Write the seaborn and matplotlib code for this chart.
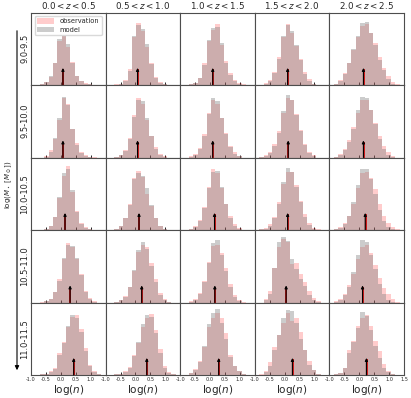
import numpy as np
import pandas as pd
import matplotlib
matplotlib.use("Agg")
import matplotlib.pyplot as plt
import seaborn as sns
from matplotlib.patches import Patch, FancyArrowPatch

sns.set_theme(style="white")
plt.rcParams['font.family'] = ['DejaVu Sans']
plt.rcParams['mathtext.fontset'] = 'dejavusans'

# ---------------- data ----------------
bin_edges = np.linspace(-1.0, 1.5, 18)
z_labels = [r"$0.0 < z < 0.5$", r"$0.5 < z < 1.0$", r"$1.0 < z < 1.5$",
            r"$1.5 < z < 2.0$", r"$2.0 < z < 2.5$"]
mass_labels = ["9.0-9.5", "9.5-10.0", "10.0-10.5", "10.5-11.0", "11.0-11.5"]

# relative bar heights per bin (17 bins), one list per redshift column
model_row0 = [
    [0, 0, 0.01, 0.04, 0.12, 0.31, 0.63, 0.67, 0.56, 0.31, 0.12, 0.05, 0.02, 0.01, 0, 0, 0],
    [0, 0, 0, 0.02, 0.06, 0.20, 0.68, 0.83, 0.77, 0.56, 0.29, 0.10, 0.03, 0.01, 0, 0, 0],
    [0, 0, 0.01, 0.03, 0.09, 0.28, 0.62, 0.78, 0.80, 0.58, 0.30, 0.14, 0.05, 0.02, 0, 0, 0],
    [0, 0, 0.02, 0.06, 0.17, 0.36, 0.68, 0.83, 0.74, 0.55, 0.34, 0.15, 0.05, 0.02, 0, 0, 0],
    [0, 0.02, 0.06, 0.15, 0.30, 0.50, 0.68, 0.85, 0.87, 0.72, 0.55, 0.35, 0.20, 0.08, 0.02, 0, 0],
]
obs_row0 = [
    [0, 0, 0.01, 0.04, 0.11, 0.30, 0.60, 0.68, 0.52, 0.32, 0.13, 0.06, 0.03, 0.01, 0, 0, 0],
    [0, 0, 0.01, 0.02, 0.07, 0.22, 0.66, 0.85, 0.74, 0.52, 0.30, 0.11, 0.04, 0.01, 0, 0, 0],
    [0, 0, 0.01, 0.03, 0.10, 0.30, 0.60, 0.76, 0.84, 0.55, 0.33, 0.16, 0.07, 0.03, 0.01, 0, 0],
    [0, 0, 0.03, 0.07, 0.18, 0.38, 0.66, 0.84, 0.72, 0.54, 0.36, 0.18, 0.08, 0.02, 0, 0, 0],
    [0, 0.02, 0.07, 0.17, 0.30, 0.48, 0.66, 0.82, 0.84, 0.72, 0.58, 0.38, 0.24, 0.12, 0.04, 0.01, 0],
]
model_row1 = [
    [0, 0, 0, 0.01, 0.08, 0.27, 0.55, 0.84, 0.72, 0.40, 0.17, 0.06, 0.02, 0.01, 0, 0, 0],
    [0, 0, 0.01, 0.03, 0.09, 0.25, 0.56, 0.80, 0.78, 0.55, 0.30, 0.12, 0.04, 0.01, 0, 0, 0],
    [0, 0, 0.01, 0.04, 0.12, 0.30, 0.60, 0.82, 0.78, 0.55, 0.32, 0.14, 0.05, 0.02, 0, 0, 0],
    [0, 0.01, 0.02, 0.06, 0.16, 0.34, 0.64, 0.86, 0.80, 0.58, 0.36, 0.17, 0.06, 0.02, 0, 0, 0],
    [0, 0.01, 0.04, 0.10, 0.22, 0.40, 0.65, 0.84, 0.82, 0.66, 0.46, 0.26, 0.12, 0.04, 0.01, 0, 0],
]
obs_row1 = [
    [0, 0, 0, 0.02, 0.10, 0.26, 0.52, 0.82, 0.74, 0.40, 0.20, 0.08, 0.03, 0.01, 0.01, 0, 0],
    [0, 0, 0.01, 0.03, 0.10, 0.27, 0.58, 0.82, 0.74, 0.52, 0.30, 0.14, 0.05, 0.02, 0, 0, 0],
    [0, 0, 0.02, 0.05, 0.13, 0.32, 0.62, 0.80, 0.74, 0.54, 0.34, 0.16, 0.07, 0.02, 0, 0, 0],
    [0, 0.01, 0.03, 0.07, 0.18, 0.36, 0.62, 0.82, 0.80, 0.60, 0.38, 0.19, 0.08, 0.03, 0, 0, 0],
    [0, 0.01, 0.05, 0.12, 0.24, 0.42, 0.62, 0.80, 0.80, 0.66, 0.48, 0.30, 0.16, 0.07, 0.02, 0, 0],
]
model_row2 = [
    [0, 0, 0, 0.01, 0.05, 0.18, 0.45, 0.78, 0.84, 0.55, 0.25, 0.08, 0.03, 0.01, 0, 0, 0],
    [0, 0, 0.01, 0.05, 0.16, 0.35, 0.70, 0.78, 0.74, 0.58, 0.35, 0.17, 0.06, 0.02, 0, 0, 0],
    [0, 0, 0.01, 0.04, 0.12, 0.30, 0.58, 0.80, 0.82, 0.60, 0.36, 0.17, 0.06, 0.02, 0, 0, 0],
    [0, 0.01, 0.02, 0.06, 0.16, 0.36, 0.66, 0.85, 0.80, 0.60, 0.38, 0.18, 0.07, 0.02, 0, 0, 0],
    [0, 0.01, 0.03, 0.08, 0.20, 0.38, 0.62, 0.84, 0.84, 0.70, 0.50, 0.28, 0.12, 0.04, 0.01, 0, 0],
]
obs_row2 = [
    [0, 0, 0, 0.02, 0.06, 0.18, 0.44, 0.75, 0.88, 0.52, 0.26, 0.10, 0.04, 0.01, 0, 0, 0],
    [0, 0, 0.01, 0.05, 0.16, 0.36, 0.72, 0.82, 0.73, 0.50, 0.33, 0.16, 0.06, 0.02, 0, 0, 0],
    [0, 0, 0.02, 0.05, 0.14, 0.32, 0.60, 0.84, 0.78, 0.58, 0.36, 0.19, 0.08, 0.03, 0, 0, 0],
    [0, 0.01, 0.03, 0.08, 0.18, 0.38, 0.64, 0.80, 0.80, 0.62, 0.40, 0.22, 0.09, 0.03, 0.01, 0, 0],
    [0, 0.01, 0.04, 0.10, 0.20, 0.36, 0.58, 0.78, 0.80, 0.72, 0.56, 0.36, 0.20, 0.10, 0.04, 0.01, 0],
]
model_row3 = [
    [0, 0, 0, 0.02, 0.05, 0.14, 0.30, 0.62, 0.80, 0.78, 0.62, 0.38, 0.14, 0.05, 0.01, 0, 0],
    [0, 0, 0.01, 0.03, 0.08, 0.22, 0.45, 0.72, 0.84, 0.74, 0.50, 0.28, 0.10, 0.03, 0.01, 0, 0],
    [0, 0, 0.01, 0.04, 0.12, 0.28, 0.55, 0.82, 0.86, 0.66, 0.44, 0.22, 0.08, 0.02, 0, 0, 0],
    [0, 0, 0.04, 0.12, 0.48, 0.83, 0.91, 0.85, 0.60, 0.46, 0.32, 0.23, 0.10, 0.04, 0.01, 0, 0],
    [0, 0.01, 0.04, 0.10, 0.22, 0.42, 0.66, 0.86, 0.84, 0.66, 0.46, 0.26, 0.12, 0.04, 0.01, 0, 0],
]
obs_row3 = [
    [0, 0, 0.01, 0.02, 0.05, 0.15, 0.32, 0.60, 0.82, 0.76, 0.60, 0.40, 0.16, 0.06, 0.02, 0, 0],
    [0, 0, 0.01, 0.04, 0.09, 0.22, 0.44, 0.70, 0.80, 0.76, 0.54, 0.32, 0.13, 0.05, 0.01, 0, 0],
    [0, 0, 0.02, 0.05, 0.13, 0.30, 0.56, 0.78, 0.80, 0.68, 0.48, 0.26, 0.11, 0.04, 0.01, 0, 0],
    [0, 0, 0.05, 0.16, 0.48, 0.76, 0.87, 0.83, 0.53, 0.55, 0.39, 0.28, 0.16, 0.06, 0.02, 0, 0],
    [0, 0.02, 0.05, 0.12, 0.24, 0.40, 0.60, 0.76, 0.80, 0.68, 0.52, 0.34, 0.20, 0.12, 0.05, 0.01, 0],
]
model_row4 = [
    [0, 0, 0.01, 0.02, 0.04, 0.08, 0.28, 0.44, 0.68, 0.83, 0.78, 0.60, 0.33, 0.12, 0.04, 0.01, 0],
    [0, 0, 0.01, 0.02, 0.04, 0.10, 0.26, 0.46, 0.70, 0.83, 0.80, 0.58, 0.30, 0.10, 0.03, 0.01, 0],
    [0, 0, 0.03, 0.07, 0.18, 0.40, 0.70, 0.85, 0.91, 0.72, 0.50, 0.25, 0.12, 0.05, 0.02, 0, 0],
    [0, 0, 0.04, 0.12, 0.35, 0.55, 0.78, 0.90, 0.88, 0.72, 0.50, 0.35, 0.14, 0.07, 0.02, 0, 0],
    [0, 0.01, 0.03, 0.10, 0.30, 0.45, 0.65, 0.87, 0.81, 0.62, 0.40, 0.24, 0.10, 0.04, 0.01, 0, 0],
]
obs_row4 = [
    [0, 0, 0.01, 0.02, 0.05, 0.09, 0.30, 0.46, 0.66, 0.80, 0.83, 0.64, 0.37, 0.14, 0.05, 0.01, 0],
    [0, 0, 0.01, 0.02, 0.05, 0.11, 0.28, 0.44, 0.66, 0.78, 0.84, 0.62, 0.36, 0.13, 0.04, 0.01, 0],
    [0, 0, 0.03, 0.08, 0.20, 0.38, 0.66, 0.78, 0.85, 0.78, 0.58, 0.28, 0.12, 0.05, 0.02, 0, 0],
    [0, 0.01, 0.05, 0.18, 0.38, 0.55, 0.72, 0.85, 0.75, 0.78, 0.60, 0.35, 0.20, 0.07, 0.02, 0, 0],
    [0, 0.01, 0.03, 0.10, 0.35, 0.47, 0.68, 0.79, 0.83, 0.68, 0.47, 0.33, 0.15, 0.05, 0.01, 0, 0],
]

# medians (model -> black arrow, observation -> red line)
model_median = [
    [0.07, 0.07, 0.09, 0.10, 0.14],
    [0.07, 0.07, 0.09, 0.12, 0.14],
    [0.14, 0.12, 0.15, 0.10, 0.20],
    [0.31, 0.21, 0.16, 0.05, 0.11],
    [0.43, 0.38, 0.29, 0.26, 0.24],
]
obs_median = [
    [0.075, 0.075, 0.095, 0.105, 0.145],
    [0.075, 0.075, 0.095, 0.125, 0.145],
    [0.145, 0.115, 0.155, 0.11, 0.21],
    [0.315, 0.22, 0.17, 0.06, 0.125],
    [0.435, 0.385, 0.295, 0.265, 0.25],
]

model_rows = [model_row0, model_row1, model_row2, model_row3, model_row4]
obs_rows = [obs_row0, obs_row1, obs_row2, obs_row3, obs_row4]
bin_centers = 0.5 * (bin_edges[:-1] + bin_edges[1:])
bin_list = [float(b) for b in bin_edges]

# ---------------- figure ----------------
W, H = 411, 398
fig, axes = plt.subplots(5, 5, figsize=(W / 100, H / 100), dpi=100,
                         gridspec_kw=dict(wspace=0, hspace=0))
fig.subplots_adjust(left=31 / W, right=404 / W, top=1 - 12.5 / H, bottom=1 - 375 / H)

obs_color = (1.0, 0.0, 0.0)
model_color = (0.5, 0.5, 0.5)

for r in range(5):
    for c in range(5):
        ax = axes[r, c]
        df_obs = pd.DataFrame({'logn': bin_centers, 'w': obs_rows[r][c]})
        df_mod = pd.DataFrame({'logn': bin_centers, 'w': model_rows[r][c]})
        sns.histplot(data=df_obs, x='logn', weights='w', bins=bin_list,
                     color=obs_color, alpha=0.2, linewidth=0, ax=ax)
        sns.histplot(data=df_mod, x='logn', weights='w', bins=bin_list,
                     color=model_color, alpha=0.4, linewidth=0, ax=ax)
        ax.vlines(obs_median[r][c], 0, 0.22, color='#d00000', lw=1.2, zorder=3)
        ax.annotate('', xy=(model_median[r][c], 0.235), xytext=(model_median[r][c], 0.0),
                    arrowprops=dict(arrowstyle='-|>', color='black', lw=0.8,
                                    mutation_scale=4, shrinkA=0, shrinkB=0),
                    zorder=4)
        ax.set_xlim(-1.0, 1.5)
        ax.set_ylim(0, 1.0)
        ax.set_yticks([])
        ax.set_ylabel('')
        if c == 4:
            ticks = [-1.0, -0.5, 0.0, 0.5, 1.0, 1.5]
        else:
            ticks = [-1.0, -0.5, 0.0, 0.5, 1.0]
        ax.set_xticks(ticks)
        ax.tick_params(axis='x', direction='in', length=2, width=0.6,
                       labelsize=3.6, pad=1.5, color='black', bottom=True)
        if r == 4:
            ax.set_xticklabels([f"{t:.1f}" for t in ticks])
            ax.set_xlabel(r'$\log(n)$', fontsize=7.5, labelpad=0.5)
        else:
            ax.set_xticklabels([])
            ax.set_xlabel('')
        for sp in ax.spines.values():
            sp.set_color('0.3')
            sp.set_linewidth(0.8)
        if r == 0:
            ax.set_title(z_labels[c], fontsize=6.3, pad=2.5)

# legend in the top-left panel
handles = [Patch(facecolor=obs_color, alpha=0.2, edgecolor='none'),
           Patch(facecolor=model_color, alpha=0.4, edgecolor='none')]
axes[0, 0].legend(handles, ['observation', 'model'], loc='upper center',
                  fontsize=4.8, frameon=True, handlelength=2.6, handleheight=0.9,
                  borderpad=0.35, labelspacing=0.35, handletextpad=0.8,
                  framealpha=1, edgecolor='0.85', fancybox=True)

# row labels
for r in range(5):
    yc = 1 - (12.5 + 72.5 * (r + 0.5)) / H
    fig.text(25 / W, yc, mass_labels[r], rotation=90, ha='center', va='center', fontsize=6)

# mass axis arrow and label
fig.add_artist(FancyArrowPatch(
    (17 / W, 1 - 28 / H), (17 / W, 1 - 373 / H), transform=fig.transFigure,
    arrowstyle='-|>', mutation_scale=6, color='black', lw=0.8))
fig.text(9 / W, 1 - 185 / H, r'$\log(M_\star\ [M_\odot])$', rotation=90, ha='center',
         va='center', fontsize=5.0)

fig.savefig('out.png', dpi=100)
